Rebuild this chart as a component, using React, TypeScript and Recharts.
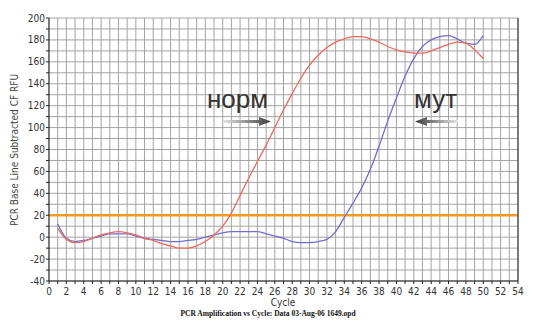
import { CartesianGrid, Line, LineChart, ReferenceLine, XAxis, YAxis } from 'recharts';

const cycles = [
  1, 2, 3, 4, 5, 6, 7, 8, 9, 10, 11, 12, 13, 14, 15, 16, 17, 18, 19, 20, 21, 22, 23, 24, 25,
  26, 27, 28, 29, 30, 31, 32, 33, 34, 35, 36, 37, 38, 39, 40, 41, 42, 43, 44, 45, 46, 47, 48, 49, 50
];

// "норм" (normal) curve
const normRfu = [
  8, -2, -5, -4, -1, 2, 4, 5, 4, 2, -1, -3, -6, -8, -10, -10, -8, -4, 2, 10, 22, 38, 54, 69, 84,
  100, 116, 131, 145, 157, 166, 173, 178, 181, 183, 183, 181, 178, 174, 171, 169, 168, 168, 170, 173,
  176, 178, 177, 171, 163
];

// "мут" (mutant) curve
const mutRfu = [
  12, -1, -4, -3, -1, 1, 3, 3, 3, 1, -1, -2, -3, -4, -4, -3, -2, 0, 2, 4, 5, 5, 5, 5, 3,
  1, -1, -4, -5, -5, -4, -2, 5, 18, 31, 45, 62, 83, 106, 127, 147, 163, 174, 180, 183, 184, 181,
  177, 176, 184
];

const threshold = 20;

const xTicks = Array.from({ length: 55 }, (_, i) => i);
const yTicks = Array.from({ length: 25 }, (_, i) => -40 + i * 10);

const rows = cycles.map((cycle, i) => ({ cycle, norm: normRfu[i], mut: mutRfu[i] }));

const tickFont = { fontSize: 10, fill: '#333', fontFamily: '"DejaVu Sans Condensed", "DejaVu Sans", sans-serif' };
const axisStroke = '#222';

export default function App() {
  return (
    <div style={{ position: 'absolute', left: 0, top: 0, width: 540, height: 325, background: '#fff' }}>
      <LineChart width={540} height={325} data={rows} margin={{ top: 18, right: 0, bottom: 0, left: 0 }}>
        <CartesianGrid yAxisId="left" stroke="#a3a3a3" strokeWidth={1} />
        <XAxis
          dataKey="cycle"
          type="number"
          domain={[0, 54]}
          ticks={xTicks}
          interval={0}
          height={44}
          tickSize={3}
          tickMargin={4}
          stroke={axisStroke}
          tick={tickFont}
          tickFormatter={(v) => (v % 2 === 0 ? String(v) : '')}
        />
        <YAxis
          yAxisId="left"
          domain={[-40, 200]}
          ticks={yTicks}
          interval={0}
          width={49}
          tickSize={3}
          tickMargin={1}
          stroke={axisStroke}
          tick={tickFont}
          tickFormatter={(v) => (v % 20 === 0 ? String(v) : '')}
        />
        <YAxis
          yAxisId="right"
          orientation="right"
          domain={[-40, 200]}
          ticks={yTicks}
          interval={0}
          width={22}
          tickSize={3}
          tickMargin={1}
          stroke={axisStroke}
          tick={tickFont}
          tickFormatter={(v) => (v % 20 === 0 ? String(v) : '')}
        />
        <ReferenceLine yAxisId="left" y={threshold} stroke="#f39a2a" strokeWidth={2.5} />
        <Line
          yAxisId="left"
          type="monotone"
          dataKey="mut"
          stroke="#6f6fd2"
          strokeWidth={1.3}
          dot={false}
          isAnimationActive={false}
        />
        <Line
          yAxisId="left"
          type="monotone"
          dataKey="norm"
          stroke="#f0695a"
          strokeWidth={1.3}
          dot={false}
          isAnimationActive={false}
        />
      </LineChart>
      <svg width={540} height={325} style={{ position: 'absolute', left: 0, top: 0, pointerEvents: 'none' }}>
        <defs>
          <linearGradient id="normArrow" x1="0" x2="1" y1="0" y2="0">
            <stop offset="0" stopColor="#e6e6e6" />
            <stop offset="1" stopColor="#3a3a3a" />
          </linearGradient>
          <linearGradient id="mutArrow" x1="0" x2="1" y1="0" y2="0">
            <stop offset="0" stopColor="#3a3a3a" />
            <stop offset="1" stopColor="#e6e6e6" />
          </linearGradient>
        </defs>
        <text
          x={14}
          y={150}
          transform="rotate(-90 14 150)"
          textAnchor="middle"
          dominantBaseline="central"
          fontSize={10}
          fill="#444"
          fontFamily='"DejaVu Sans Condensed", "DejaVu Sans", sans-serif'
        >
          PCR Base Line Subtracted CF RFU
        </text>
        <text x={283} y={306} textAnchor="middle" fontSize={10} fill="#333" fontFamily='"DejaVu Sans Condensed", "DejaVu Sans", sans-serif'>
          Cycle
        </text>
        <text x={268} y={316} textAnchor="middle" fontSize={7.5} fontWeight="bold" fill="#111" fontFamily='"Liberation Serif", serif'>
          PCR Amplification vs Cycle: Data 03-Aug-06 1649.opd
        </text>
        <text x={207} y={108} fontSize={26} fill="#333" fontFamily='"Liberation Sans", Arial, sans-serif'>
          норм
        </text>
        <text x={414} y={108} fontSize={26} fill="#333" fontFamily='"Liberation Sans", Arial, sans-serif'>
          мут
        </text>
        <polygon points="223,120 259,120 259,117 271,121.5 259,126 259,123 223,123" fill="url(#normArrow)" />
        <polygon points="458,120 427,120 427,117 415,121.5 427,126 427,123 458,123" fill="url(#mutArrow)" />
      </svg>
    </div>
  );
}
